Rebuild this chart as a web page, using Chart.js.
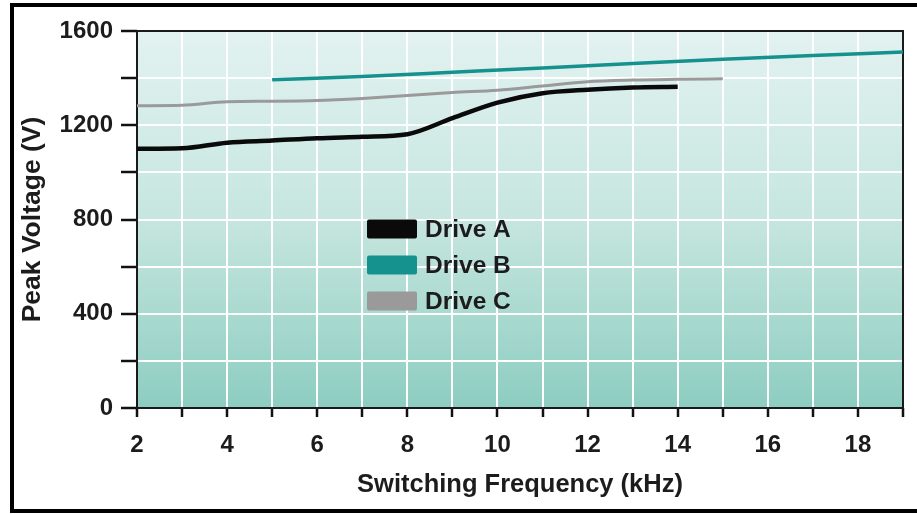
<!DOCTYPE html>
<html>
<head>
<meta charset="utf-8">
<script src="https://cdn.jsdelivr.net/npm/chart.js@4"></script>
<style>
  html, body { margin: 0; padding: 0; background: #fff; overflow: hidden; }
  #frame {
    position: absolute; left: 10px; top: 3px; width: 920px; height: 502px;
    border-left: 4px solid #000; border-top: 4px solid #000; border-bottom: 4px solid #000;
  }
  #chart { position: absolute; left: 0; top: 0; }
</style>
</head>
<body>
<div id="frame"></div>
<canvas id="chart" width="917" height="514"></canvas>
<script>
// kHz / volts
const freqA = [2, 3, 4, 5, 6, 7, 8, 9, 10, 11, 12, 13, 14];
const driveA = [1100, 1102, 1126, 1135, 1145, 1151, 1162, 1230, 1296, 1336, 1351, 1360, 1363];

const freqB = [5, 7, 9, 11, 13, 15, 17, 19];
const driveB = [1393, 1407, 1425, 1443, 1462, 1480, 1496, 1511];

const freqC = [2, 3, 4, 5, 6, 7, 8, 9, 10, 11, 12, 13, 14, 15];
const driveC = [1283, 1285, 1300, 1302, 1305, 1314, 1326, 1339, 1349, 1367, 1385, 1392, 1395, 1397];

const seriesNames = ["Drive A", "Drive B", "Drive C"];
const seriesColors = ["#0a0a0a", "#15918e", "#9a9a9a"];

const xLabelEvery = 2;
const yLabelEvery = 400;

const FONT = "'Liberation Sans', Arial, Helvetica, sans-serif";
const TEXT = "#1c1c1c";

const pts = (xs, ys) => xs.map((x, i) => ({ x: x, y: ys[i] }));

const plotDeco = {
  id: "plotDeco",
  beforeDraw(chart) {
    const { ctx, chartArea: a } = chart;
    const g = ctx.createLinearGradient(0, a.top, 0, a.bottom);
    g.addColorStop(0, "#e2f2f1");
    g.addColorStop(0.5, "#c6e6df");
    g.addColorStop(1, "#8dcdc1");
    ctx.save();
    ctx.fillStyle = g;
    ctx.fillRect(a.left, a.top, a.right - a.left, a.bottom - a.top);
    ctx.restore();
  },
  beforeDatasetsDraw(chart) {
    const { ctx, chartArea: a } = chart;
    ctx.save();
    ctx.strokeStyle = "#1a1a1a";
    ctx.lineWidth = 2;
    ctx.strokeRect(a.left, a.top, a.right - a.left, a.bottom - a.top);
    ctx.restore();
  },
  afterDraw(chart) {
    // legend sits inside the plot
    const { ctx, chartArea: a } = chart;
    const x0 = a.left + 230;
    let y = a.top + 198;
    ctx.save();
    ctx.font = "bold 24.5px " + FONT;
    ctx.textBaseline = "middle";
    chart.data.datasets.forEach(ds => {
      ctx.fillStyle = ds.borderColor;
      ctx.beginPath();
      ctx.roundRect(x0, y - 9.5, 50, 19, 2);
      ctx.fill();
      ctx.fillStyle = TEXT;
      ctx.fillText(ds.label, x0 + 58, y + 1);
      y += 36;
    });
    ctx.restore();
  }
};

new Chart(document.getElementById("chart"), {
  type: "line",
  data: {
    datasets: [
      { label: seriesNames[0], data: pts(freqA, driveA), borderColor: seriesColors[0], borderWidth: 4.5 },
      { label: seriesNames[1], data: pts(freqB, driveB), borderColor: seriesColors[1], borderWidth: 3.5 },
      { label: seriesNames[2], data: pts(freqC, driveC), borderColor: seriesColors[2], borderWidth: 3 }
    ]
  },
  options: {
    responsive: false,
    animation: false,
    layout: { padding: { left: 0, top: 31, right: 14, bottom: 0 } },
    elements: {
      point: { radius: 0 },
      line: { cubicInterpolationMode: "monotone", fill: false }
    },
    plugins: { legend: { display: false }, tooltip: { enabled: false } },
    scales: {
      x: {
        type: "linear",
        min: 2,
        max: 19,
        afterFit: s => { s.height = 106; },
        grid: { color: "#ffffff", lineWidth: 2, tickColor: "#111", tickWidth: 2.5, tickLength: 9 },
        border: { display: false },
        ticks: {
          stepSize: 1,
          autoSkip: false,
          maxRotation: 0,
          padding: 14,
          color: TEXT,
          font: { family: FONT, size: 24, weight: "bold" },
          callback: v => (v % xLabelEvery === 0 ? String(v) : "")
        },
        title: {
          display: true,
          text: "Switching Frequency (kHz)",
          color: TEXT,
          font: { family: FONT, size: 25.5, weight: "bold" },
          padding: { top: 0, bottom: 14 }
        }
      },
      y: {
        min: 0,
        max: 1600,
        afterFit: s => { s.width = 137; },
        grid: { color: "#ffffff", lineWidth: 2, tickColor: "#111", tickWidth: 2.5, tickLength: 16 },
        border: { display: false },
        ticks: {
          stepSize: 200,
          padding: 8,
          color: TEXT,
          font: { family: FONT, size: 24, weight: "bold" },
          callback: v => (v % yLabelEvery === 0 ? String(v) : "")
        },
        title: {
          display: true,
          text: "Peak Voltage (V)",
          color: TEXT,
          font: { family: FONT, size: 26.5, weight: "bold" },
          padding: { top: 17, bottom: 0 }
        }
      }
    }
  },
  plugins: [plotDeco]
});
</script>
</body>
</html>
